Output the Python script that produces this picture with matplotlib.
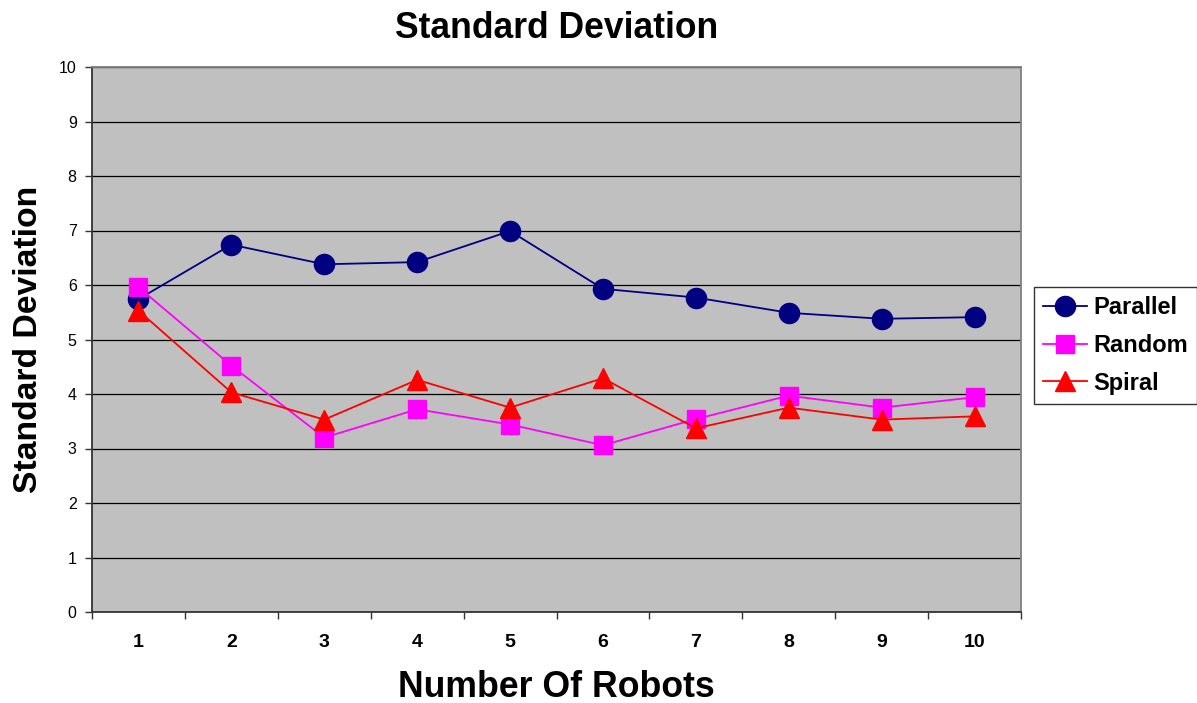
import matplotlib
matplotlib.use('Agg')
from matplotlib import pyplot as plt
from matplotlib.ticker import FixedLocator

plt.rcParams['font.family'] = ['Liberation Sans', 'DejaVu Sans']

robots = [1, 2, 3, 4, 5, 6, 7, 8, 9, 10]
parallel = [5.74, 6.74, 6.38, 6.42, 6.99, 5.93, 5.77, 5.49, 5.38, 5.41]
random_ = [5.96, 4.52, 3.20, 3.72, 3.44, 3.06, 3.54, 3.97, 3.75, 3.94]
spiral = [5.53, 4.03, 3.53, 4.26, 3.75, 4.29, 3.37, 3.75, 3.53, 3.59]

fig = plt.figure(figsize=(11.97, 7.03), dpi=100)
ax = fig.add_axes([92 / 1197, 91 / 703, 929 / 1197, 545 / 703])
ax.set_facecolor('#C0C0C0')

ax.plot(robots, parallel, color='#000080', lw=1.3, marker='o', ms=14.5, label='Parallel', zorder=3)
ax.plot(robots, random_, color='#FF00FF', lw=1.3, marker='s', ms=13.5, label='Random', zorder=3)
ax.plot(robots, spiral, color='#FF0000', lw=1.3, marker='^', ms=14, label='Spiral', zorder=3)

ax.set_xlim(0.5, 10.5)
ax.set_ylim(0, 10)
ax.set_yticks(range(0, 11))
ax.yaxis.grid(True, color='black', lw=0.9)
ax.set_axisbelow(True)

# category labels centred, tick marks between categories
ax.set_xticks(robots)
ax.set_xticklabels([str(r) for r in robots], fontsize=14, fontweight='bold')
ax.tick_params(axis='x', which='major', length=0, pad=16)
ax.xaxis.set_minor_locator(FixedLocator([r + 0.5 for r in range(0, 11)]))
ax.tick_params(axis='x', which='minor', length=5, width=1, color='#333333', direction='out')
ax.tick_params(axis='y', length=5, width=1, color='#333333', labelsize=11.5, pad=6)

for side in ['left', 'bottom']:
    ax.spines[side].set_color('#333333')
    ax.spines[side].set_linewidth(1.3)
for side in ['right', 'top']:
    ax.spines[side].set_color('#808080')
    ax.spines[side].set_linewidth(1.3)

ax.set_title('Standard Deviation', fontsize=25.6, fontweight='bold', pad=21)
ax.set_ylabel('Standard Deviation', fontsize=24.3, fontweight='bold')
ax.yaxis.set_label_coords(-0.052, 0.5)
ax.set_xlabel('Number Of Robots', fontsize=25.7, fontweight='bold')
ax.xaxis.set_label_coords(0.5, -0.106)

leg = fig.legend(loc='upper left', bbox_to_anchor=(1034 / 1197, 1 - 287 / 703),
                 prop={'weight': 'bold', 'size': 17}, frameon=True,
                 fancybox=False, edgecolor='black', handlelength=1.85,
                 borderpad=0.4, labelspacing=0.62, handletextpad=0.25, borderaxespad=0)
leg.get_frame().set_linewidth(1.0)

fig.savefig('out.png', dpi=100, facecolor='white')
